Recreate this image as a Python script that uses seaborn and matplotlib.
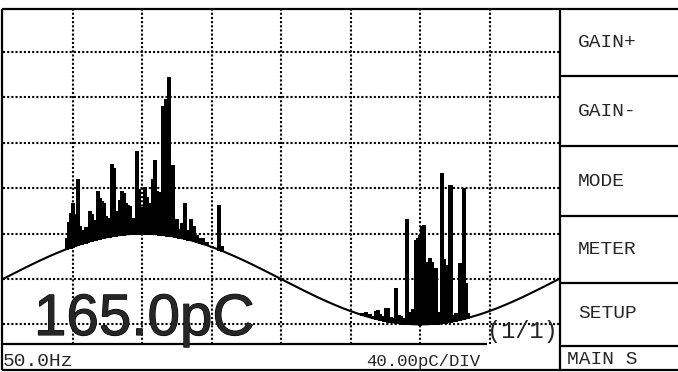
import numpy as np
import matplotlib
matplotlib.use("Agg")
import matplotlib.pyplot as plt
import matplotlib.patheffects as pe
import seaborn as sns
import pandas as pd

# PD pulses, positive half cycle: phase (deg) and magnitude above the reference wave (pC)
pos_phase = [41.4, 42.7, 44.0, 45.3, 46.6, 48.6, 49.9, 51.2, 52.4, 53.7,
             55.0, 56.3, 57.6, 58.9, 60.2, 61.5, 62.8, 64.1, 65.4, 66.7,
             68.0, 69.3, 70.6, 71.9, 73.2, 74.5, 75.8, 77.1, 78.3, 79.6,
             80.9, 82.2, 83.5, 84.8, 86.1, 86.8, 88.1, 89.4, 90.7, 91.9,
             93.2, 94.5, 95.8, 97.1, 98.4, 99.7, 101.0, 102.3, 103.6, 104.6,
             105.5, 106.5, 107.5, 108.8, 110.1, 111.4, 112.7, 114.0, 115.9, 117.8,
             119.8, 121.7, 123.7, 125.6, 127.6, 129.5, 132.1, 135.3, 139.9, 141.8]
pos_pc = [9.5, 22.8, 30.1, 38.2, 28.0, 57.7, 15.9, 6.6, 11.3, 13.3,
          8.4, 26.3, 23.2, 17.5, 16.1, 42.0, 35.4, 32.5, 30.3, 18.5,
          16.4, 12.6, 63.2, 59.4, 17.9, 21.1, 30.5, 38.2, 36.2, 27.3,
          25.4, 24.4, 1.5, 13.7, 11.8, 72.4, 38.9, 23.2, 19.6, 40.7,
          32.0, 26.8, 26.9, 48.1, 65.7, 37.7, 37.0, 31.9, 113.8, 113.8,
          120.3, 120.3, 139.9, 59.5, 62.5, 4.0, 15.7, 7.3, 13.2, 31.3,
          8.2, 18.6, 13.2, 6.1, 4.2, 5.1, 2.7, 0.9, 39.1, 4.2]

# negative half cycle
neg_phase = [232.5, 235.0, 237.6, 239.6, 241.5, 242.8, 244.1, 245.4, 246.7, 248.0,
             249.3, 251.2, 252.5, 254.5, 256.4, 257.7, 259.0, 260.3, 261.6, 262.9,
             264.2, 265.5, 267.4, 268.7, 270.0, 271.3, 272.6, 273.9, 275.2, 276.5,
             277.8, 279.1, 280.4, 281.7, 283.0, 284.3, 285.5, 286.8, 288.1, 289.4,
             290.1, 291.4, 293.3, 294.6, 295.9, 297.2, 298.5, 299.8, 301.1]
neg_pc = [1.9, 3.9, 3.1, 2.0, 7.1, 8.4, 5.3, 3.9, 2.5, 11.7,
          11.9, 4.6, 3.9, 30.6, 7.3, 6.7, 5.1, 3.4, 92.2, 5.4,
          10.9, 13.6, 74.2, 76.0, 78.6, 86.5, 87.4, 54.8, 49.5, 58.2,
          54.6, 23.7, 49.0, 7.6, 10.0, 131.8, 56.1, 50.5, 44.1, 120.2,
          120.0, 5.7, 6.9, 3.9, 50.0, 49.6, 115.0, 31.2, 4.5]

sine_amp = 40  # pC, reference 50 Hz wave
pc_per_div = 40
peak_reading = "165.0pC"
freq_label = "50.0Hz"
scale_label = "40.00pC/DIV"
page_label = "(1/1)"
menu_labels = ["GAIN+", "GAIN-", "MODE", "METER", "SETUP"]
menu_footer = "MAIN S"

sns.set_style("white")
plt.rcParams['font.family'] = ['Liberation Sans', 'DejaVu Sans']

W, H = 678, 372
fig = plt.figure(figsize=(W / 100, H / 100), dpi=100)

# scope area
ax = fig.add_axes([3 / W, 1 - 344 / H, 556 / W, 335 / H])
ax.set_xlim(0, 360)
ax.set_ylim(-57.3, 237.9)
ax.set_xticks(np.arange(45, 360, 45))
ax.set_yticks(np.arange(-pc_per_div, 237, pc_per_div))
ax.grid(True, color='black', linestyle=(0, (1, 1)), linewidth=1.5)
ax.set_axisbelow(True)
ax.tick_params(length=0, labelbottom=False, labelleft=False)
for s in ax.spines.values():
    s.set_visible(False)

ref = pd.DataFrame({'phase': np.arange(0, 361)})
ref['pC'] = sine_amp * np.sin(np.radians(ref['phase']))
sns.lineplot(data=ref, x='phase', y='pC', ax=ax, color='black', linewidth=1.5)
ax.set_xlabel('')
ax.set_ylabel('')

pulses = pd.DataFrame({'phase': pos_phase + neg_phase, 'pC': pos_pc + neg_pc})
pulses['base'] = sine_amp * np.sin(np.radians(pulses['phase']))
ax.vlines(pulses['phase'], pulses['base'] - 1, pulses['base'] + pulses['pC'],
          color='black', linewidth=1.7, antialiased=False)

# frame, status bar and menu panel in pixel coords
ov = fig.add_axes([0, 0, 1, 1], facecolor='none')
ov.set_xlim(0, W)
ov.set_ylim(H, 0)
ov.axis('off')
lk = dict(color='black', linewidth=1.6, solid_capstyle='butt')
ov.plot([2, W], [9, 9], **lk)
ov.plot([2, W], [370, 370], **lk)
ov.plot([2, 2], [9, 370], **lk)
ov.plot([560, 560], [9, 370], **lk)
ov.plot([2, 487], [344, 344], **lk)
for yb in [76, 146, 216, 283, 346]:
    ov.plot([560, W], [yb, yb], **lk)

ov.text(34, 335, peak_reading, fontsize=42, family='Liberation Sans', va='baseline',
        path_effects=[pe.withStroke(linewidth=0.8, foreground='black')])
mono = ['Liberation Mono', 'DejaVu Sans Mono']
ov.text(3, 366, freq_label, fontsize=14, family=mono, va='baseline')
ov.text(366, 366, scale_label, fontsize=12.5, family=mono, va='baseline')
ov.text(487, 338, page_label, fontsize=17, family=mono, va='baseline')
centers = [42.5, 111, 181, 249.5, 314]
for lab, yc in zip(menu_labels, centers):
    ov.text(578, yc, lab, fontsize=14, family=mono, va='center')
ov.text(567, 359, menu_footer, fontsize=14, family=mono, va='center')

fig.savefig('out.png', dpi=100)
